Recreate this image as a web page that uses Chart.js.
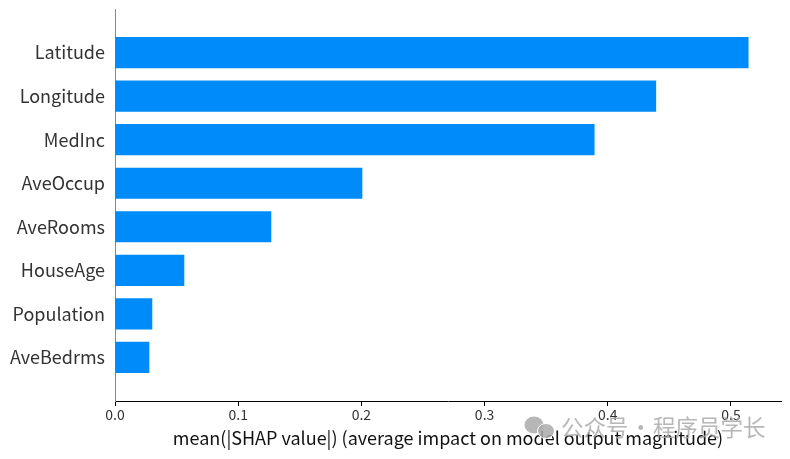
<!DOCTYPE html>
<html>
<head>
<meta charset="utf-8">
<style>
  html, body { margin: 0; padding: 0; background: #fff; }
  canvas { display: block; }
</style>
<script src="https://cdn.jsdelivr.net/npm/chart.js@4"></script>
</head>
<body>
<canvas id="shap-chart" width="790" height="459"></canvas>
<script>
const features = ['Latitude', 'Longitude', 'MedInc', 'AveOccup', 'AveRooms', 'HouseAge', 'Population', 'AveBedrms'];
const shapValues = [0.514, 0.439, 0.389, 0.2005, 0.1266, 0.056, 0.030, 0.0276];
const axisMax = 0.5406;
const fontName = '"Noto Sans CJK SC", "Noto Sans", sans-serif';

// watermark over the lower right corner, on top of the axis text
const watermark = {
    id: 'watermark',
    afterDraw(chart) {
        const ctx = chart.ctx;
        ctx.save();
        ctx.fillStyle = 'rgba(170, 170, 170, 0.85)';
        ctx.beginPath();
        ctx.ellipse(534, 425, 9.5, 8.5, 0, 0, Math.PI * 2);
        ctx.fill();
        ctx.strokeStyle = '#fff';
        ctx.lineWidth = 1;
        ctx.beginPath();
        ctx.ellipse(546, 431, 8.5, 7.5, 0, 0, Math.PI * 2);
        ctx.fill();
        ctx.stroke();
        ctx.font = '22.5px ' + fontName;
        ctx.wordSpacing = '-4px';
        ctx.textBaseline = 'middle';
        ctx.fillText('公众号 · 程序员学长', 561, 427);
        ctx.restore();
    }
};

new Chart(document.getElementById('shap-chart').getContext('2d'), {
    type: 'bar',
    data: {
        datasets: [{
            data: shapValues.map((value, i) => ({ x: value, y: i })),
            backgroundColor: '#008bfb',
            barThickness: 30.5
        }]
    },
    options: {
        indexAxis: 'y',
        responsive: false,
        animation: false,
        layout: { padding: { top: 9, right: 9, left: 0, bottom: 0 } },
        plugins: { legend: { display: false }, tooltip: { enabled: false } },
        scales: {
            x: {
                type: 'linear',
                min: 0,
                max: axisMax,
                afterFit: scale => { scale.height = 58; },
                grid: { drawOnChartArea: false, tickColor: '#000', tickLength: 5, tickWidth: 1 },
                border: { color: '#000', width: 1 },
                ticks: {
                    stepSize: 0.1,
                    includeBounds: false,
                    maxRotation: 0,
                    padding: 0,
                    color: '#333',
                    font: { family: fontName, size: 14 },
                    callback: value => value.toFixed(1)
                },
                title: {
                    display: true,
                    text: 'mean(|SHAP value|) (average impact on model output magnitude)',
                    color: '#111',
                    padding: { top: 0, bottom: 10 },
                    font: { family: fontName, size: 18 }
                }
            },
            y: {
                type: 'linear',
                reverse: true,
                offset: false,
                min: -1,
                max: features.length,
                afterFit: scale => {
                    scale.width = 115;
                    scale.paddingTop = 0;
                    scale.paddingBottom = 0;
                },
                grid: { display: true, drawOnChartArea: false, drawTicks: false },
                border: { color: '#888', width: 1 },
                ticks: {
                    stepSize: 1,
                    padding: 10,
                    color: '#333',
                    font: { family: fontName, size: 18 },
                    callback: value => features[value] || ''
                }
            }
        }
    },
    plugins: [watermark]
});
</script>
</body>
</html>
